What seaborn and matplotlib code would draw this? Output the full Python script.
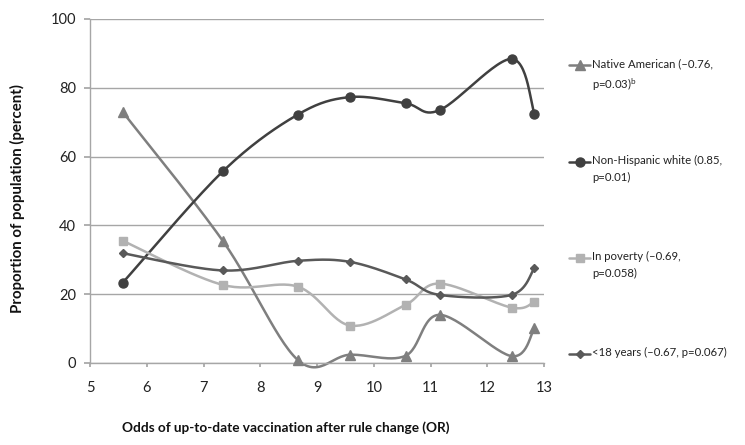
import numpy as np
import pandas as pd
import matplotlib
matplotlib.use("Agg")
import matplotlib.pyplot as plt
import seaborn as sns
from matplotlib.lines import Line2D
from matplotlib import font_manager

# Odds ratio (x) for each county group
odds = [5.58, 7.34, 8.66, 9.58, 10.56, 11.16, 12.43, 12.83]

native_american = [72.9, 35.5, 0.9, 2.4, 2.1, 14.0, 2.0, 10.1]
non_hispanic_white = [23.4, 55.7, 72.2, 77.3, 75.5, 73.5, 88.4, 72.5]
in_poverty = [35.5, 22.7, 22.2, 10.9, 16.9, 23.1, 16.1, 17.8]
under_18 = [31.9, 26.9, 29.7, 29.4, 24.3, 19.8, 19.8, 27.6]

series_names = ["Native American", "Non-Hispanic white", "In poverty", "<18 years"]
legend_labels = [
    "Native American (\u20130.76,\np=0.03)$^\\mathregular{b}$",
    "Non-Hispanic white (0.85,\np=0.01)",
    "In poverty (\u20130.69,\np=0.058)",
    "<18 years (\u20130.67, p=0.067)",
]
colors = ["#7f7f7f", "#404040", "#b2b2b2", "#595959"]
markers = ["^", "o", "s", "D"]
marker_sizes = [6.5, 6.5, 6, 4.5]

x_ticks = list(range(5, 14))
y_ticks = [0, 20, 40, 60, 80, 100]


def smooth_curve(xs, ys, sx=56.75, sy=3.435, n=30):
    # Excel-style smoothed line: parametric Catmull-Rom in screen space
    p = np.column_stack([np.array(xs) * sx, np.array(ys) * sy])
    p = np.vstack([p[0], p, p[-1]])
    out = []
    for i in range(1, len(p) - 2):
        p0, p1, p2, p3 = p[i - 1], p[i], p[i + 1], p[i + 2]
        c1 = p1 + (p2 - p0) / 6.0
        c2 = p2 - (p3 - p1) / 6.0
        t = np.linspace(0, 1, n)[:, None]
        seg = ((1 - t) ** 3) * p1 + 3 * ((1 - t) ** 2) * t * c1 + 3 * (1 - t) * t ** 2 * c2 + t ** 3 * p2
        out.append(seg if i == 1 else seg[1:])
    out = np.vstack(out)
    return out[:, 0] / sx, out[:, 1] / sy


def has_font(name):
    try:
        font_manager.findfont(name, fallback_to_default=False)
        return True
    except ValueError:
        return False


sns.set_theme(style="white")
plt.rcParams["font.family"] = ["Lato", "DejaVu Sans"]

if has_font("Liberation Sans Narrow"):
    legend_font = ["Liberation Sans Narrow", "DejaVu Sans"]
    legend_size = 10
else:
    legend_font = ["Lato", "DejaVu Sans"]
    legend_size = 8.2

fig = plt.figure(figsize=(7.45, 4.45), dpi=100)
ax = fig.add_axes([90 / 745, 1 - 363 / 445, 454 / 745, 344 / 445])

all_values = [native_american, non_hispanic_white, in_poverty, under_18]
for name, vals, col, mk, ms in zip(series_names, all_values, colors, markers, marker_sizes):
    cx, cy = smooth_curve(odds, vals)
    curve = pd.DataFrame({"x": cx, "y": cy})
    sns.lineplot(data=curve, x="x", y="y", ax=ax, color=col, linewidth=1.8,
                 sort=False, estimator=None)
    pts = pd.DataFrame({"x": odds, "y": vals})
    ax.plot(pts["x"], pts["y"], linestyle="none", marker=mk, markersize=ms,
            color=col, zorder=5)

ax.set_xlim(5, 13)
ax.set_ylim(0, 100)
ax.set_xticks(x_ticks)
ax.set_yticks(y_ticks)
ax.set_xlabel("")
ax.set_ylabel("")
ax.yaxis.grid(True, color="#a6a6a6", linewidth=1)
ax.set_axisbelow(True)
for s in ["top", "right"]:
    ax.spines[s].set_visible(False)
for s in ["left", "bottom"]:
    ax.spines[s].set_color("#a6a6a6")
    ax.spines[s].set_linewidth(1)
ax.tick_params(axis="both", which="both", direction="out", color="#a6a6a6",
               labelsize=10.5, labelcolor="#222222")
ax.tick_params(axis="x", length=3, pad=10, bottom=True)
ax.tick_params(axis="y", length=4, pad=6, left=True)
for ln in ax.lines:
    ln.set_clip_on(False)

fig.text(286 / 745, 1 - 428 / 445, "Odds of up-to-date vaccination after rule change (OR)",
         ha="center", va="center", fontsize=9.8, fontweight="bold", color="#111111")
fig.text(17 / 745, 1 - 199 / 445, "Proportion of population (percent)",
         ha="center", va="center", rotation=90, fontsize=10.8, fontweight="bold", color="#111111")

# legend drawn manually so handles line up with the first text line, as in Excel
legend_y = [65, 162, 258, 354]
for lab, col, mk, ms, ly in zip(legend_labels, colors, markers, marker_sizes, legend_y):
    yf = 1 - ly / 445
    fig.add_artist(Line2D([569 / 745, 590 / 745], [yf, yf], color=col, linewidth=1.8,
                          transform=fig.transFigure))
    fig.add_artist(Line2D([579.5 / 745], [yf], color=col, marker=mk, markersize=ms,
                          transform=fig.transFigure))
    fig.text(592 / 745, yf + 7 / 445, lab, ha="left", va="top", fontsize=legend_size,
             family=legend_font, color="#222222", linespacing=1.6)

fig.savefig("out.png", dpi=100)
